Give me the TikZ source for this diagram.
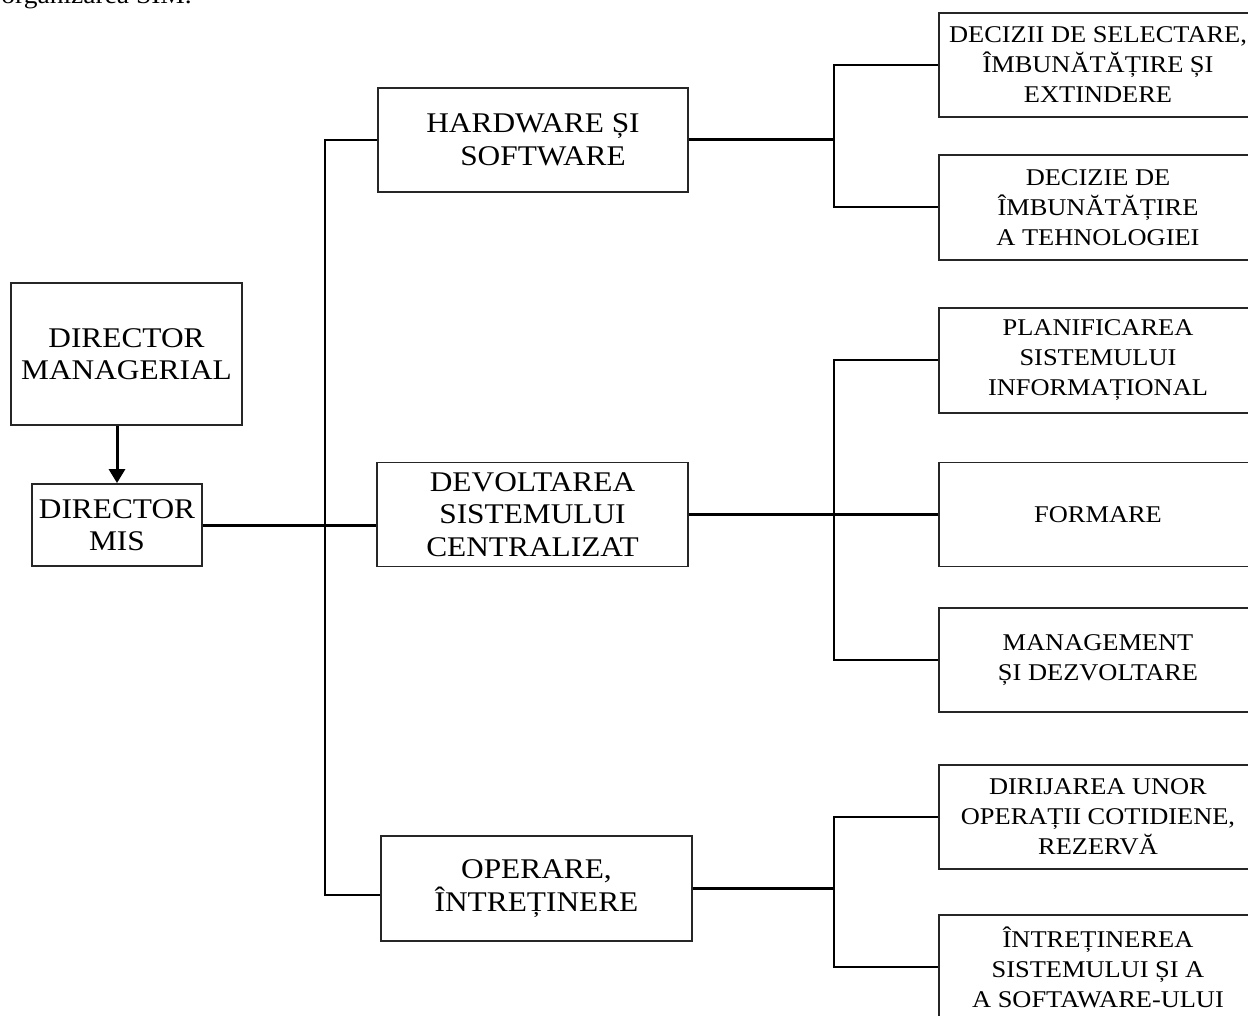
\documentclass[tikz,border=0pt]{standalone}
\usepackage{fontspec}
\setmainfont{Liberation Serif}[FakeStretch=1.1]
\usetikzlibrary{arrows.meta}

\tikzset{
  box/.style={draw=black!85, line width=1.8pt, rectangle, inner sep=0pt, align=center},
  bigbox/.style={box, font=\fontsize{28.5}{32.5}\selectfont},
  leafbox/.style={box, minimum width=318pt, minimum height=104pt, font=\fontsize{24}{30}\selectfont},
  thin/.style={line width=2pt},
  thick/.style={line width=3pt}
}

\begin{document}
\begin{tikzpicture}[x=1pt, y=-1pt]
  \useasboundingbox (0,0) rectangle (1248,1016);

  % caption fragment
  \node[anchor=base east, inner sep=0pt, font=\fontsize{25}{30}\selectfont] (title) at (192,4) {organizarea SIM.};

  % left column
  \node[bigbox, minimum width=231pt, minimum height=142pt] (mgr) at (126.5,354) {DIRECTOR\\MANAGERIAL};
  \node[bigbox, minimum width=170pt, minimum height=82pt] (mis) at (117,525) {DIRECTOR\\MIS};

  % middle column
  \node[bigbox, minimum width=310pt, minimum height=104pt] (hw) at (533,140) {HARDWARE ȘI\\\hspace*{20pt}SOFTWARE};
  \node[bigbox, minimum width=311pt, minimum height=104pt] (dev) at (532.5,514.5) {DEVOLTAREA\\SISTEMULUI\\CENTRALIZAT};
  \node[bigbox, minimum width=311pt, minimum height=105pt] (op) at (536.5,888.5) {OPERARE,\\ÎNTREȚINERE};

  % right column
  \node[leafbox] (r1) at (1098,65) {DECIZII DE SELECTARE,\\ÎMBUNĂTĂȚIRE ȘI\hspace*{36pt}\\EXTINDERE};
  \node[leafbox, minimum height=105pt] (r2) at (1098,207.5) {DECIZIE DE\\ÎMBUNĂTĂȚIRE\\A TEHNOLOGIEI};
  \node[leafbox, minimum height=105pt] (r3) at (1098,360.5) {PLANIFICAREA\\SISTEMULUI\\INFORMAȚIONAL};
  \node[leafbox] (r4) at (1098,514.5) {FORMARE};
  \node[leafbox] (r5) at (1098,660) {MANAGEMENT\\ȘI DEZVOLTARE};
  \node[leafbox] (r6) at (1098,817) {DIRIJAREA UNOR\\OPERAȚII COTIDIENE,\\REZERVĂ};
  \node[leafbox] (r7) at (1098,967) {ÎNTREȚINEREA\\SISTEMULUI ȘI A\\A SOFTAWARE-ULUI};

  % bus lines
  \coordinate (trunk) at (325,0);
  \coordinate (bus) at (834,0);

  % connectors
  \draw[thick, -{Triangle[length=14pt,width=16pt]}] (mis.north |- mgr.south) -- (mis.north);
  \draw[thick] (mis.east) -- (mis.east -| dev.west);
  \draw[thin] (hw.west) -- (hw.west -| trunk) -- ([yshift=-6pt]op.west -| trunk) -- ([yshift=-6pt]op.west);

  \draw[thick] (hw.east) -- (hw.east -| bus);
  \draw[thin] (r1.west) -- (r1.west -| bus) -- (r2.west -| bus) -- (r2.west);

  \draw[thick] (dev.east) -- (r4.west);
  \draw[thin] (r3.west) -- (r3.west -| bus) -- (r5.west -| bus) -- (r5.west);

  \draw[thick] (op.east) -- (op.east -| bus);
  \draw[thin] (r6.west) -- (r6.west -| bus) -- (r7.west -| bus) -- (r7.west);
\end{tikzpicture}
\end{document}
